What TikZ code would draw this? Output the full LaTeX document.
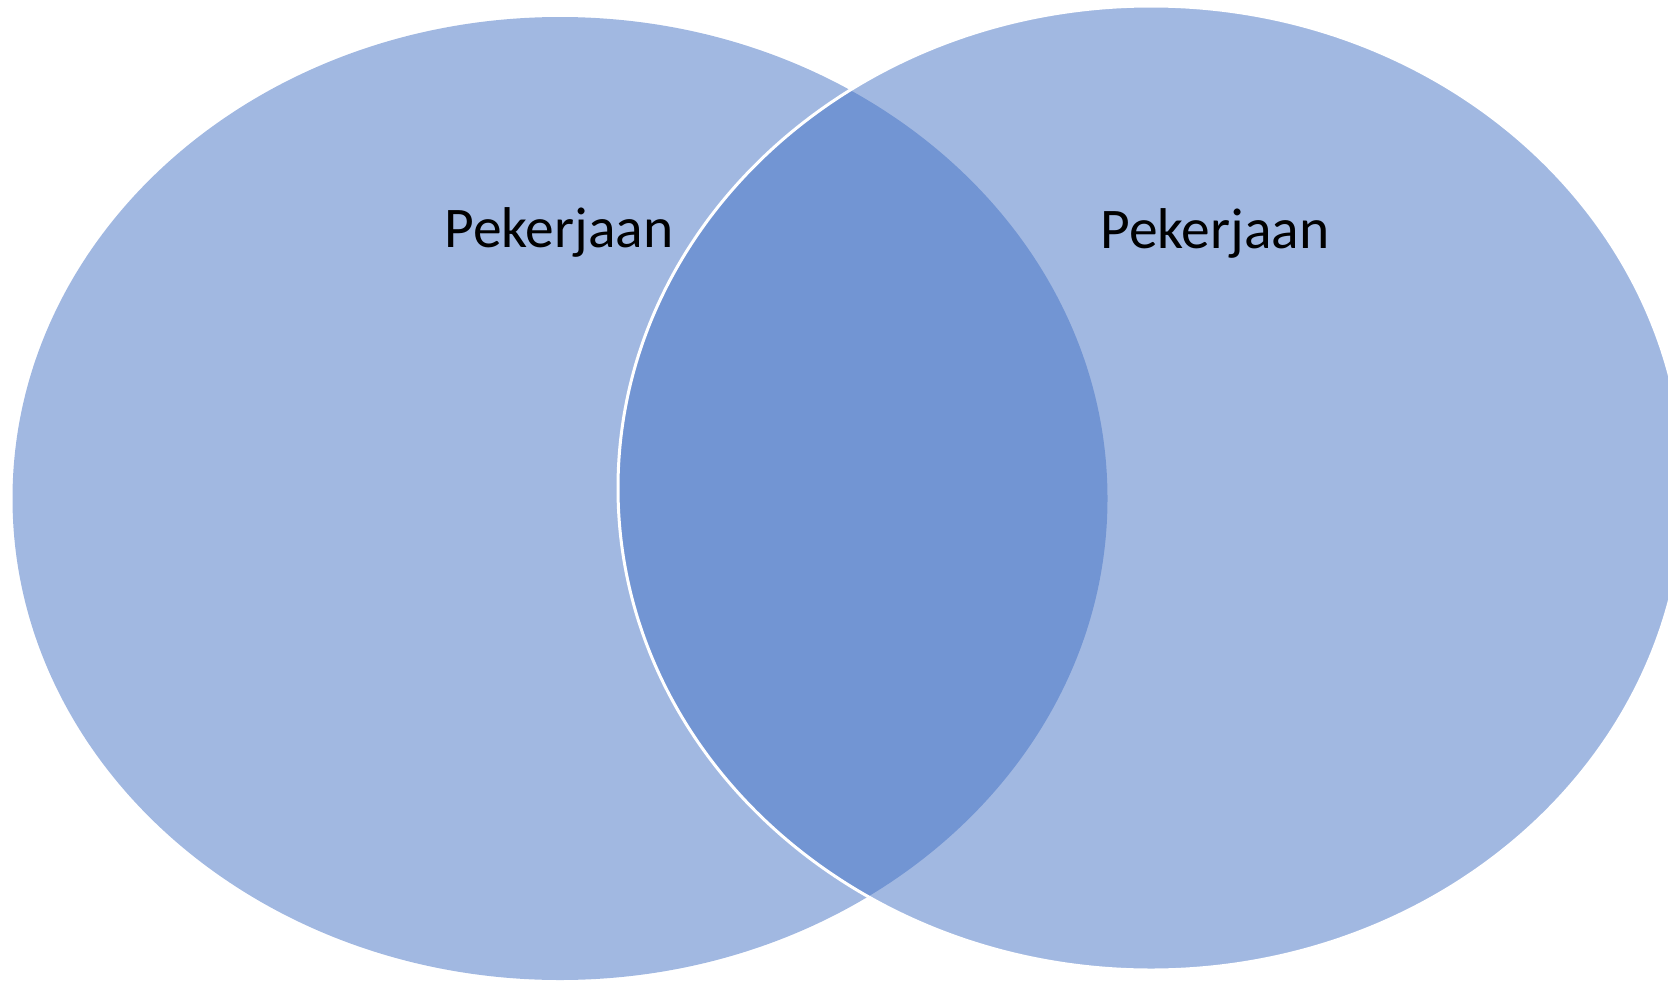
\documentclass[tikz,border=0pt]{standalone}
\usepackage{fontspec}
\setmainfont{Carlito}
\usetikzlibrary{shapes.geometric}
\definecolor{accent}{HTML}{4472C4}
\tikzset{
  setshape/.style={ellipse, inner sep=0pt, fill=accent, fill opacity=0.5, draw=none},
  label/.style={anchor=base, text=black, text opacity=1, font=\fontsize{57.5}{68}\selectfont}
}
\begin{document}
\begin{tikzpicture}[x=1pt,y=-1pt]
\useasboundingbox (0,0) rectangle (1668,980);
\begin{scope}
\clip (0,0) rectangle (1668,980);
\node[setshape, minimum width=1095pt, minimum height=963pt] (left) at (560,498.5) {};
\node[setshape, minimum width=1066pt, minimum height=964pt, draw=white, draw opacity=1, line width=3pt] (right) at (1151,488) {};
\end{scope}
\node[label] (ltext) at (559,247) {Pekerjaan};
\node[label] (rtext) at (1215,248) {Pekerjaan};
\end{tikzpicture}
\end{document}
